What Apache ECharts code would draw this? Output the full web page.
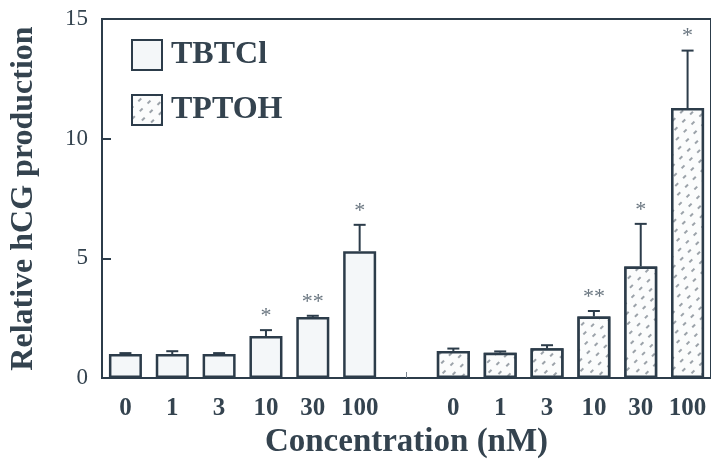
<!DOCTYPE html>
<html>
<head>
<meta charset="utf-8">
<script src="https://cdn.jsdelivr.net/npm/echarts@6/dist/echarts.min.js"></script>
<style>html,body{margin:0;padding:0;background:#fff;}#c{width:711px;height:468px;}</style>
</head>
<body>
<div id="c"></div>
<script>
// categories: two groups of concentrations separated by one empty slot
const categories = ['0','1','3','10','30','100','','0','1','3','10','30','100'];
const tbtclValues = [1.0, 1.0, 1.0, 1.75, 2.55, 5.3, null, null, null, null, null, null, null];
const tbtclErrors = [0.04, 0.12, 0.04, 0.25, 0.05, 1.1, null, null, null, null, null, null, null];
const tbtclStars  = ['', '', '', '*', '**', '*', '', '', '', '', '', '', ''];
const tptohValues = [null, null, null, null, null, null, null, 1.13, 1.06, 1.24, 2.57, 4.66, 11.28];
const tptohErrors = [null, null, null, null, null, null, null, 0.1, 0.05, 0.13, 0.23, 1.78, 2.4];
const tptohStars  = ['', '', '', '', '', '', '', '', '', '', '**', '*', '*'];
const yTicks = [0, 5, 10, 15];

const ink = '#2c3c4a';
const textInk = '#34434f';
const serif = '"Liberation Serif","DejaVu Serif",serif';

function errData(vals, errs) {
  const out = [];
  vals.forEach((v, i) => { if (v != null) out.push([i, v, errs[i]]); });
  return out;
}
function makeErr(stars) {
  return function (params, api) {
    const i = api.value(0), v = api.value(1), e = api.value(2);
    const base = api.coord([i, v]);
    const top = api.coord([i, v + e]);
    const half = 6;
    const st = { stroke: ink, lineWidth: 2 };
    const children = [
      { type: 'line', shape: { x1: base[0], y1: base[1], x2: top[0], y2: top[1] }, style: st },
      { type: 'line', shape: { x1: top[0] - half, y1: top[1], x2: top[0] + half, y2: top[1] }, style: st }
    ];
    const s = stars[i];
    if (s) {
      children.push({ type: 'text', style: { text: s, x: top[0], y: top[1] - 3, align: 'center', verticalAlign: 'bottom',
        font: '22px ' + serif, fill: '#6a7680' } });
    }
    return { type: 'group', children };
  };
}

const hatch = {
  symbol: 'rect', symbolSize: 1,
  dashArrayX: [[4, 7], [0, 5, 4, 2]],
  dashArrayY: [1.2, 5.5],
  rotation: -Math.PI / 4,
  color: 'rgba(60,72,85,0.5)',
  backgroundColor: '#fbfcfc'
};

const chart = echarts.init(document.getElementById('c'));
chart.setOption({
  animation: false,
  backgroundColor: '#fff',
  grid: { left: 97, top: 19, bottom: 90, right: -1, show: true, borderColor: ink, borderWidth: 2 },
  legend: {
    orient: 'vertical', left: 126, top: 34, itemWidth: 30, itemHeight: 30, itemGap: 23,
    icon: 'rect',
    textStyle: { fontFamily: serif, fontWeight: 'bold', fontSize: 32, color: textInk, padding: [0, 0, 0, 4] },
    data: ['TBTCl', 'TPTOH']
  },
  xAxis: {
    type: 'category', data: categories,
    name: 'Concentration (nM)', nameLocation: 'middle', nameGap: 33,
    nameTextStyle: { fontFamily: serif, fontWeight: 'bold', fontSize: 33, color: textInk },
    axisLine: { lineStyle: { color: ink, width: 2 } },
    axisTick: { show: true, inside: true, alignWithLabel: true, length: 6, lineStyle: { color: '#7a8590', width: 1 },
      interval: function (idx) { return idx === 6; } },
    axisLabel: { margin: 18, fontFamily: serif, fontWeight: 'bold', fontSize: 25, color: textInk, interval: 0 }
  },
  yAxis: {
    type: 'value', min: 0, max: 15, interval: 5,
    name: 'Relative hCG production', nameLocation: 'middle', nameGap: 62,
    nameTextStyle: { fontFamily: serif, fontWeight: 'bold', fontSize: 32, color: textInk },
    axisLine: { show: true, lineStyle: { color: ink, width: 2 } },
    axisTick: { show: true, inside: true, length: 9, lineStyle: { color: ink, width: 2 } },
    splitLine: { show: false },
    axisLabel: { margin: 14, fontFamily: serif, fontSize: 23, color: textInk,
      formatter: function (v) { return yTicks.indexOf(v) >= 0 ? String(v) : ''; } }
  },
  series: [
    { name: 'TBTCl', type: 'bar', data: tbtclValues, barWidth: 33, barGap: '-100%',
      itemStyle: { color: '#f4f7f9', borderColor: ink, borderWidth: 2.5 } },
    { name: 'TPTOH', type: 'bar', data: tptohValues, barWidth: 33, barGap: '-100%',
      itemStyle: { color: '#fbfcfc', borderColor: ink, borderWidth: 2.5, decal: hatch } },
    { type: 'custom', renderItem: makeErr(tbtclStars), data: errData(tbtclValues, tbtclErrors), z: 5, silent: true },
    { type: 'custom', renderItem: makeErr(tptohStars), data: errData(tptohValues, tptohErrors), z: 5, silent: true }
  ]
});
</script>
</body>
</html>
